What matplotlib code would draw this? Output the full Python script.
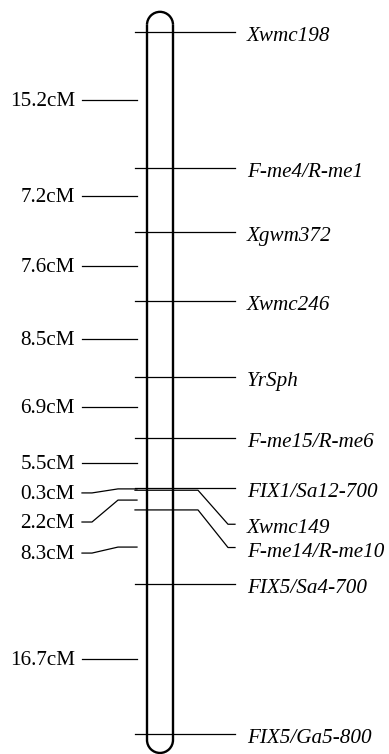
import numpy as np
import matplotlib.pyplot as plt
from matplotlib.patches import Arc

# marker names, top to bottom
markers = ["Xwmc198", "F-me4/R-me1", "Xgwm372", "Xwmc246", "YrSph",
           "F-me15/R-me6", "FIX1/Sa12-700", "Xwmc149", "F-me14/R-me10",
           "FIX5/Sa4-700", "FIX5/Ga5-800"]

# genetic distance between neighbouring markers (cM)
intervals = [15.2, 7.2, 7.6, 8.5, 6.9, 5.5, 0.3, 2.2, 8.3, 16.7]
interval_labels = ["%.1fcM" % d for d in intervals]

pos = np.concatenate([[0], np.cumsum(intervals)])
mids = (pos[:-1] + pos[1:]) / 2

# label shifts (cM) where labels are pushed apart
right_shift = {7: 3.8, 8: 4.2}
left_shift = {1: -0.45, 6: 0.45, 7: 2.45, 8: 0.67}

plt.rcParams['font.family'] = ['Liberation Serif', 'DejaVu Serif']

fig = plt.figure(figsize=(3.89, 7.54), dpi=100)
ax = fig.add_axes([0, 0, 1, 1])
px = 8.95  # pixels per cM
ax.set_xlim(0, 389)
ax.set_ylim((754 - 32) / px, -32 / px)
ax.axis("off")

# chromosome body
xl, xr = 147, 173
r = (xr - xl) / 2
top_c = -0.8
bot_c = pos[-1] + 0.7
ax.plot([xl, xl], [top_c, bot_c], color="black", lw=1.7, solid_capstyle="butt")
ax.plot([xr, xr], [top_c, bot_c], color="black", lw=1.7, solid_capstyle="butt")
# y axis is inverted, so the angles flip
ax.add_patch(Arc(((xl + xr) / 2, top_c), 2 * r, 2 * r / px, theta1=180, theta2=360,
                 color="black", lw=1.7))
ax.add_patch(Arc(((xl + xr) / 2, bot_c), 2 * r, 2 * r / px, theta1=0, theta2=180,
                 color="black", lw=1.7))

# markers on the right
for i, name in enumerate(markers):
    y = pos[i]
    if i in right_shift:
        ly = y + right_shift[i]
        ax.plot([135, 198, 228, 235], [y, y, ly, ly], color="black", lw=0.9)
    else:
        ly = y
        ax.plot([135, 235], [y, y], color="black", lw=0.9)
    ax.text(247, ly + 9 / px, name, style="italic", fontsize=15.2,
            ha="left", va="baseline")

# distances on the left
for i, lab in enumerate(interval_labels):
    y = mids[i]
    if i in (6, 7, 8):
        ly = y + left_shift[i]
        ax.plot([82, 92, 118, 137], [ly, ly, y, y], color="black", lw=0.9)
    else:
        ly = y + left_shift.get(i, 0)
        ax.plot([82, 137], [ly, ly], color="black", lw=0.9)
    ax.text(75, ly + 6 / px, lab, fontsize=15.2, ha="right", va="baseline")

plt.savefig("out.png", dpi=100)
